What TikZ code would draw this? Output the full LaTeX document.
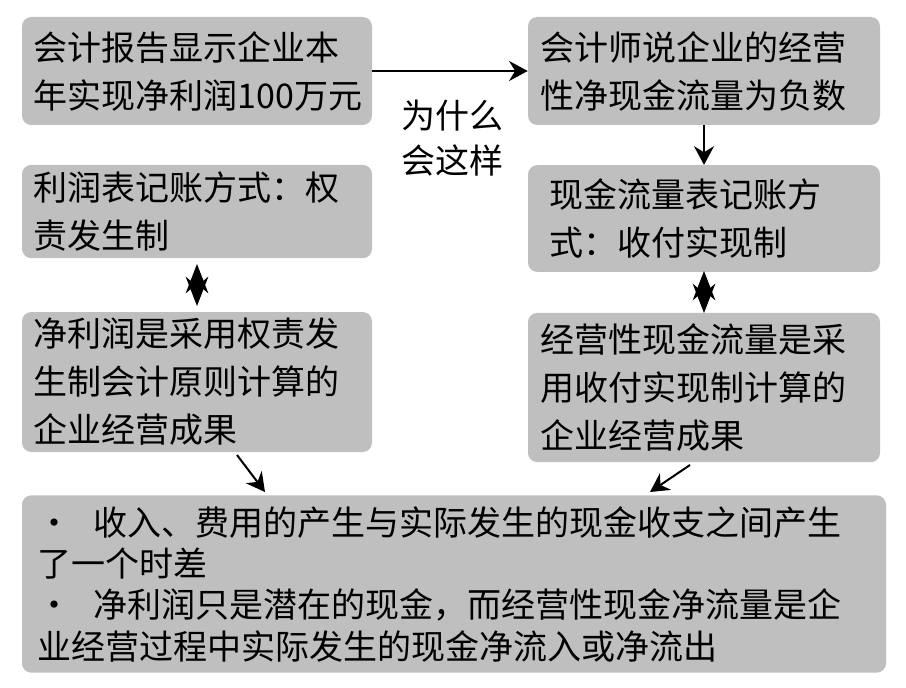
\documentclass[tikz,border=0pt]{standalone}
\usepackage{fontspec}
\setmainfont{Noto Sans CJK SC}
\usetikzlibrary{arrows.meta}
\definecolor{boxgray}{RGB}{191,191,191}
\tikzset{
  box/.style={fill=boxgray, rounded corners=7pt, inner sep=0pt, align=left,
    font=\fontsize{25.5}{36}\selectfont},
  tip/.style={-{Stealth[length=14pt,width=15pt]}, line width=1.5pt},
  both/.style={{Stealth[length=22pt,width=17pt]}-{Stealth[length=22pt,width=17pt]}, line width=1.5pt},
}
\begin{document}
\begin{tikzpicture}[x=0.75pt, y=-0.75pt]
  \useasboundingbox (0,0) rectangle (906,688);
  \node[box, minimum width=262.5pt, minimum height=81pt, text width=245pt] (report) at (197,71)
    {会计报告显示企业本\\年实现净利润100万元};
  \node[box, minimum width=264pt, minimum height=81pt, text width=245pt] (accountant) at (704,71)
    {会计师说企业的经营\\性净现金流量为负数};
  \node[box, minimum width=262.5pt, minimum height=70pt, text width=245pt] (accrual) at (197,211.5)
    {利润表记账方式：权\\责发生制};
  \node[box, minimum width=264pt, minimum height=80pt, text width=232pt] (cashbasis) at (704,218.5)
    {现金流量表记账方\\式：收付实现制};
  \node[box, minimum width=262.5pt, minimum height=105pt, text width=245pt] (profit) at (197,382)
    {净利润是采用权责发\\生制会计原则计算的\\企业经营成果};
  \node[box, minimum width=264pt, minimum height=112pt, text width=245pt] (cashflow) at (704,387.5)
    {经营性现金流量是采\\用收付实现制计算的\\企业经营成果};
  \node[box, minimum width=648pt, minimum height=133pt, text width=625pt,
    font=\fontsize{25.5}{31}\selectfont] (gap) at (454,584)
    {·\ \ 收入、费用的产生与实际发生的现金收支之间产生\\了一个时差\\
     ·\ \ 净利润只是潜在的现金，而经营性现金净流量是企\\业经营过程中实际发生的现金净流入或净流出};
  \node[align=center, font=\fontsize{25.5}{34}\selectfont] (why) at (452,138) {为什么\\会这样};

  \coordinate (accrualend) at (197,264);
  \coordinate (profittop) at (197,306);
  \coordinate (cashend) at (704,271);
  \coordinate (cashtop) at (704,313);
  \coordinate (profitout) at (237,455);
  \coordinate (gapleft) at (265,492);
  \coordinate (cashflowout) at (690,465);
  \coordinate (gapright) at (650,492);

  \draw[tip] (report) -- (accountant);
  \draw[tip] (accountant) -- (cashbasis);
  \draw[both] (accrualend) -- (profittop);
  \draw[both] (cashend) -- (cashtop);
  \draw[tip] (profitout) -- (gapleft);
  \draw[tip] (cashflowout) -- (gapright);
\end{tikzpicture}
\end{document}
